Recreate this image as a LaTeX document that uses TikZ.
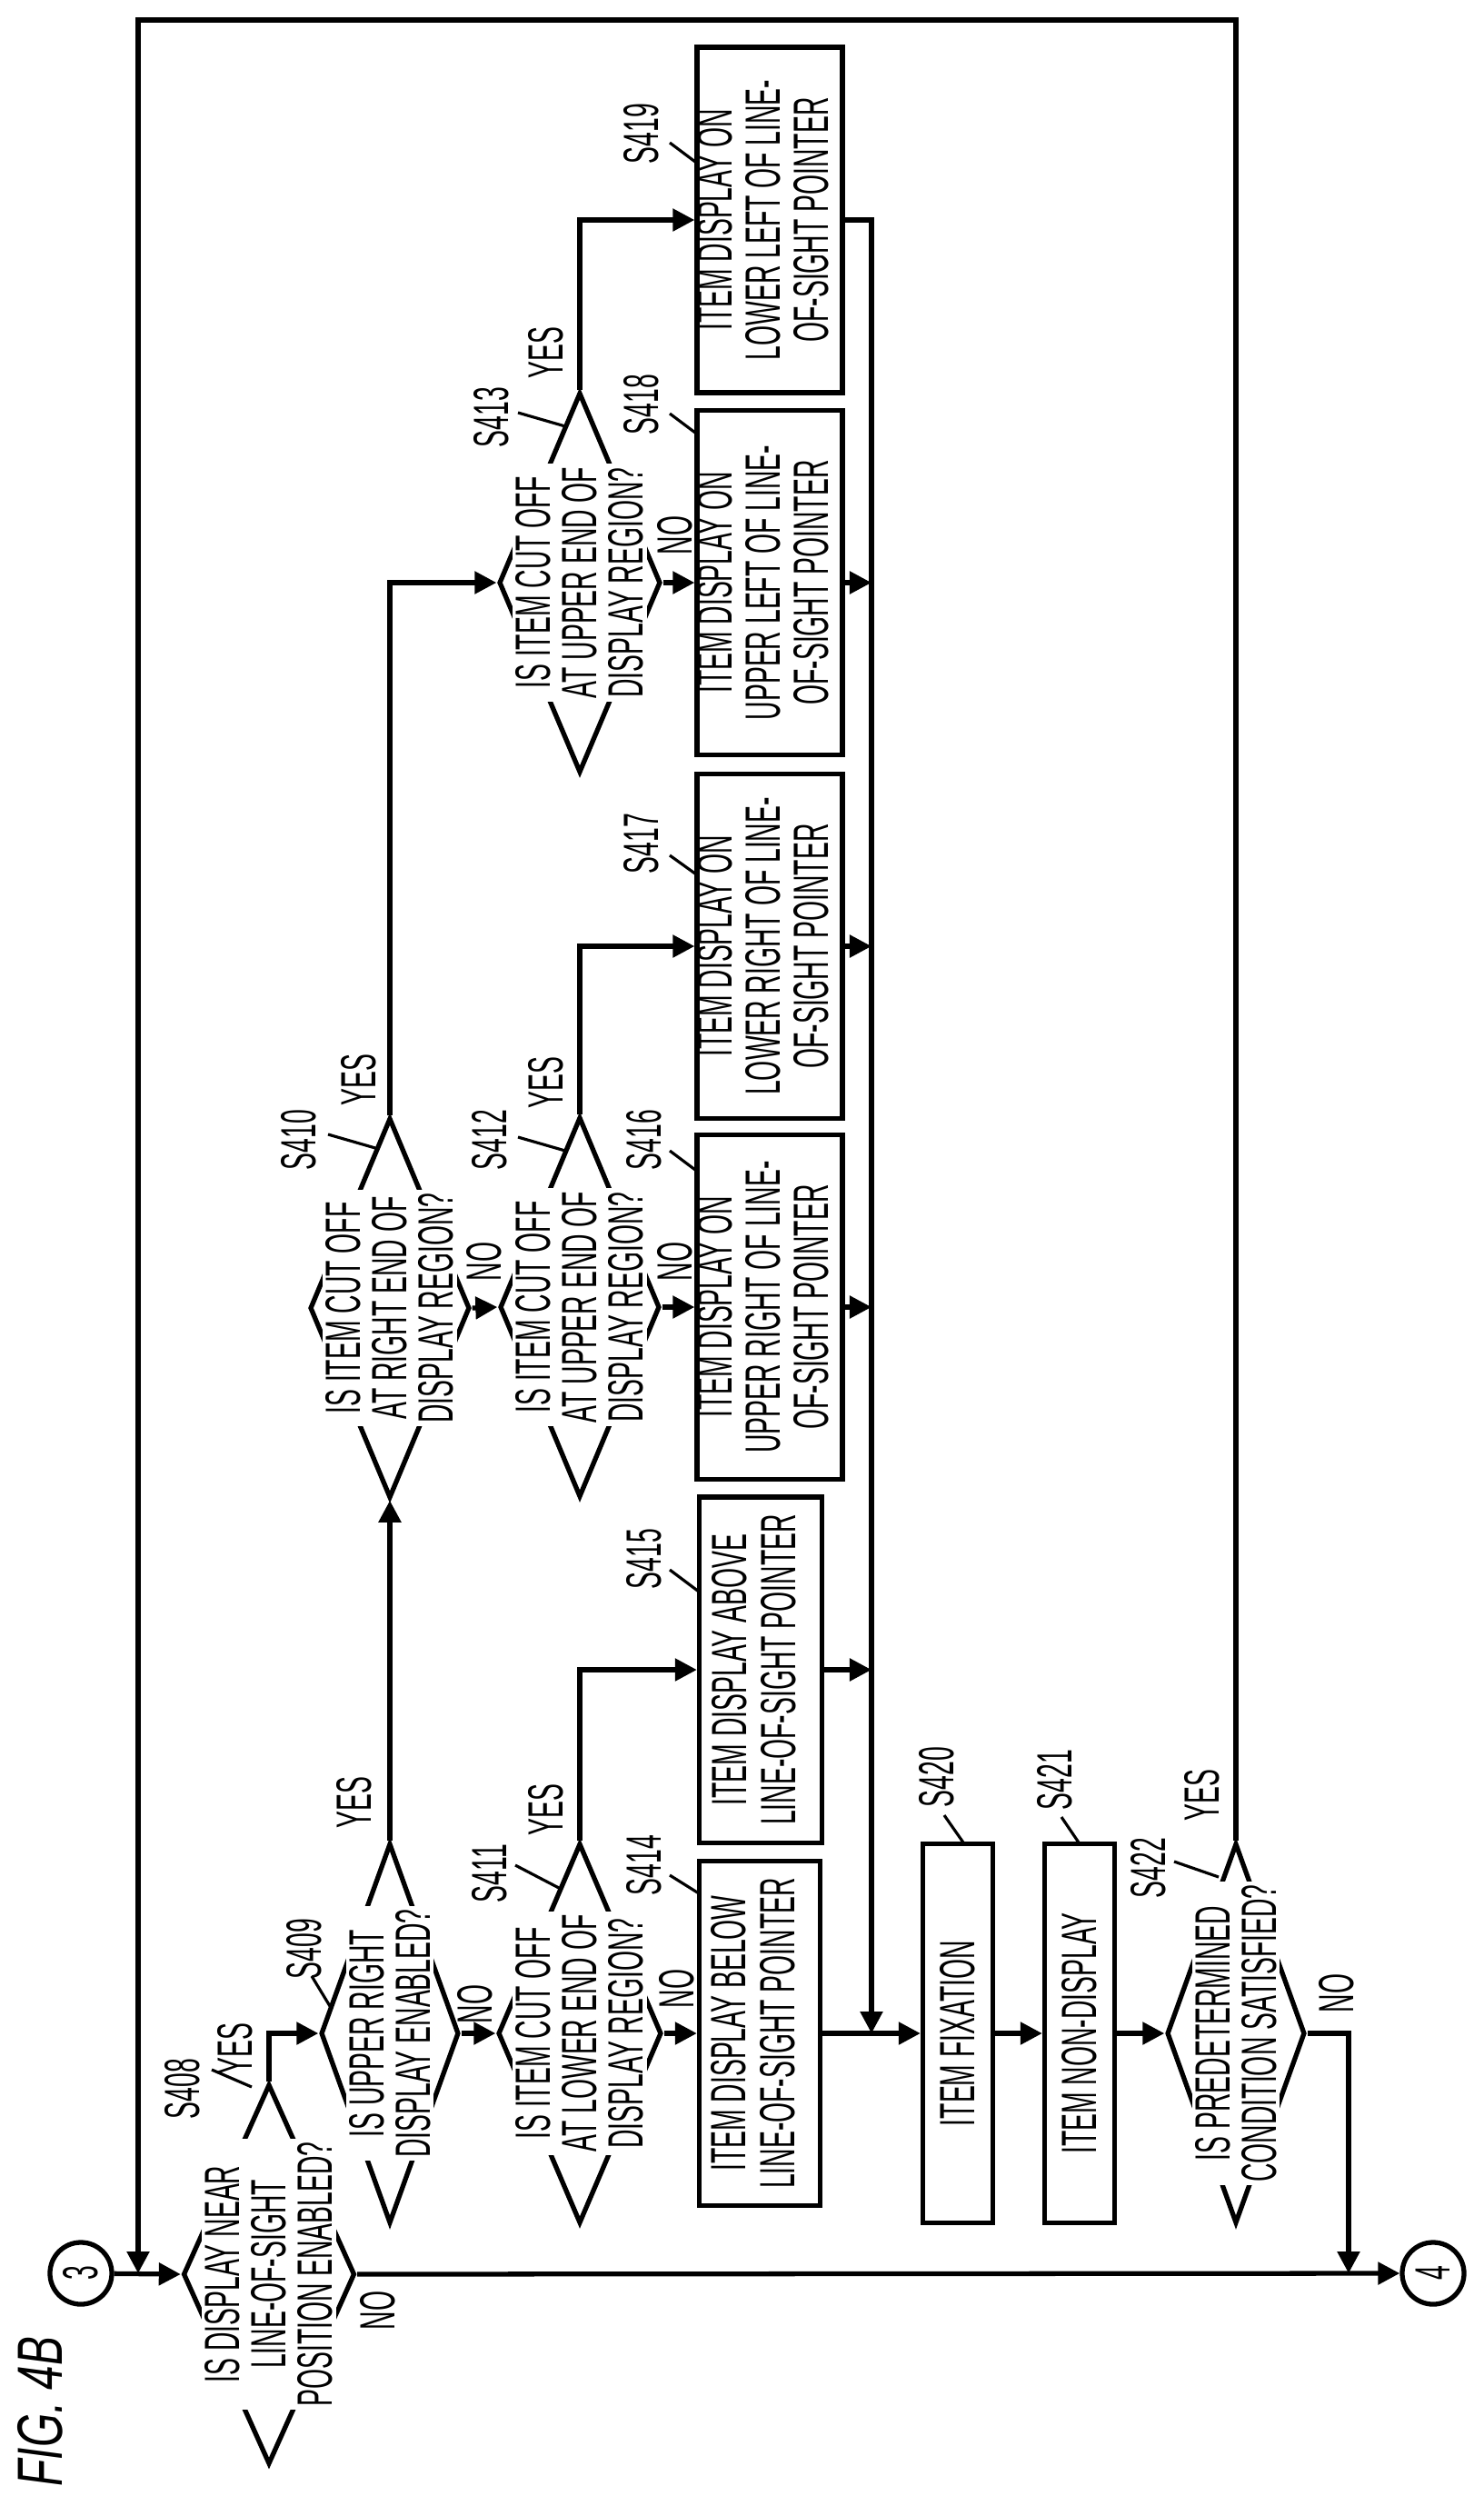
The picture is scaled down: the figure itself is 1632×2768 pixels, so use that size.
\documentclass[tikz,border=0pt]{standalone}
\usepackage{fontspec}
\setmainfont{Liberation Sans}[FakeStretch=0.52]
\newfontfamily\figfont{Liberation Sans}[FakeStretch=0.68]
\usetikzlibrary{arrows.meta,shapes.geometric}
\newcommand{\vt}[1]{\rotatebox{90}{\begin{tabular}{@{}c@{}}#1\end{tabular}}}
\tikzset{
  arr/.style={-{Triangle[length=0.24cm,width=0.24cm]}},
  proc/.style={draw,rectangle,inner sep=0pt},
  dec/.style={draw,diamond,inner sep=0pt,minimum width=#1,minimum height=4.18cm},
  dtext/.style={rotate=90,align=center,fill=white,inner sep=1pt},
  lab/.style={rotate=90,inner sep=0pt},
  lead/.style={line width=0.9pt},
  conn/.style={draw,circle,minimum size=0.68cm,inner sep=0pt}
}
\begin{document}
\begin{tikzpicture}[x=0.01cm,y=-0.01cm,line width=1.5pt,
  font=\fontsize{15.5pt}{14.5pt}\selectfont]
\useasboundingbox (0,0) rectangle (1632,2768);
% connectors
\node[conn] (c3) at (89,2501) {\rotatebox{90}{3}};
\node[conn] (c4) at (1577,2501) {\rotatebox{90}{4}};
% decisions
\node[dec=1.89cm] (s408) at (296,2502) {};
\node[dtext] at (s408) {IS DISPLAY NEAR\\LINE-OF-SIGHT\\POSITION ENABLED?};
\node[dec=1.52cm] (s409) at (429,2237) {};
\node[dtext] at (s409) {IS UPPER RIGHT\\DISPLAY ENABLED?};
\node[dec=1.80cm] (s411) at (638,2237) {};
\node[dtext] at (s411) {IS ITEM CUT OFF\\AT LOWER END OF\\DISPLAY REGION?};
\node[dec=1.76cm] (s410) at (429,1439) {};
\node[dtext] at (s410) {IS ITEM CUT OFF\\AT RIGHT END OF\\DISPLAY REGION?};
\node[dec=1.76cm] (s412) at (638,1438) {};
\node[dtext] at (s412) {IS ITEM CUT OFF\\AT UPPER END OF\\DISPLAY REGION?};
\node[dec=1.78cm] (s413) at (638,641) {};
\node[dtext] at (s413) {IS ITEM CUT OFF\\AT UPPER END OF\\DISPLAY REGION?};
\node[dec=1.52cm] (s422) at (1360,2237) {};
\node[dtext] at (s422) {IS PREDETERMINED\\CONDITION SATISFIED?};
% process boxes
\node[proc,minimum width=1.33cm,minimum height=3.79cm] (s414) at (836,2237)
  {\vt{ITEM DISPLAY BELOW\\LINE-OF-SIGHT POINTER}};
\node[proc,minimum width=1.35cm,minimum height=3.80cm] (s415) at (837,1837)
  {\vt{ITEM DISPLAY ABOVE\\LINE-OF-SIGHT POINTER}};
\node[proc,minimum width=1.54cm,minimum height=3.79cm] (s416) at (847,1438)
  {\vt{ITEM DISPLAY ON\\UPPER RIGHT OF LINE-\\OF-SIGHT POINTER}};
\node[proc,minimum width=1.54cm,minimum height=3.79cm] (s417) at (847,1041)
  {\vt{ITEM DISPLAY ON\\LOWER RIGHT OF LINE-\\OF-SIGHT POINTER}};
\node[proc,minimum width=1.54cm,minimum height=3.79cm] (s418) at (847,641)
  {\vt{ITEM DISPLAY ON\\UPPER LEFT OF LINE-\\OF-SIGHT POINTER}};
\node[proc,minimum width=1.54cm,minimum height=3.80cm] (s419) at (847,242)
  {\vt{ITEM DISPLAY ON\\LOWER LEFT OF LINE-\\OF-SIGHT POINTER}};
\node[proc,minimum width=0.77cm,minimum height=4.17cm] (s420) at (1054,2237)
  {\rotatebox{90}{ITEM FIXATION}};
\node[proc,minimum width=0.77cm,minimum height=4.17cm] (s421) at (1188,2237)
  {\rotatebox{90}{ITEM NON-DISPLAY}};
% helper points
\coordinate (tl) at (152,22);
\coordinate (jin) at (152,2501);
\coordinate (jout) at (1484,2501);
\coordinate (mg) at (959,2237);
% flow
\draw[arr] (c3) -- (s408.west);
\draw[arr] (s408.east) -- (c4.west);
\draw[arr] (s422.north) |- (tl) -- (jin);
\draw[arr] (s408.north) |- (s409.west);
\draw[arr] (s409.east) -- (s411.west);
\draw[arr] (s411.east) -- (s414.west);
\draw[arr] (s414.east) -- (s420.west);
\draw[arr] (s420.east) -- (s421.west);
\draw[arr] (s421.east) -- (s422.west);
\draw[arr] (s422.east) -| (jout);
\draw[arr] (s409.north) -- (s410.south);
\draw[arr] (s410.east) -- (s412.west);
\draw[arr] (s412.east) -- (s416.west);
\draw[arr] (s412.north) |- (s417.west);
\draw[arr] (s410.north) |- (s413.west);
\draw[arr] (s413.east) -- (s418.west);
\draw[arr] (s413.north) |- (s419.west);
\draw[arr] (s411.north) |- (s415.west);
\draw[arr] (s419.east) -| (mg);
\foreach \b in {s418,s417,s416,s415}
  \draw[arr] (\b.east) -- (\b.east -| mg);
% yes / no
\node[lab] (y408) at (259,2254) {YES};
\node[lab] (n408) at (416,2542) {NO};
\node[lab] (y409) at (390,1983) {YES};
\node[lab] (n409) at (523,2205) {NO};
\node[lab] (y411) at (601,1991) {YES};
\node[lab] (n411) at (745,2188) {NO};
\node[lab] (y410) at (395,1188) {YES};
\node[lab] (n410) at (533,1388) {NO};
\node[lab] (y412) at (601,1191) {YES};
\node[lab] (n412) at (743,1388) {NO};
\node[lab] (y413) at (601,388) {YES};
\node[lab] (n413) at (743,589) {NO};
\node[lab] (y422) at (1323,1975) {YES};
\node[lab] (n422) at (1471,2193) {NO};
% step numbers
\node[lab] (l408) at (201,2298) {S408};
\draw[lead] (233,2277) -- (277,2296);
\node[lab] (l409) at (335,2144) {S409};
\draw[lead] (343,2174) -- (363,2207);
\node[lab] (l411) at (539,2061) {S411};
\draw[lead] (567,2052) -- (615,2077);
\node[lab] (l414) at (709,2052) {S414};
\draw[lead] (737,2063) -- (769,2083);
\node[lab] (l420) at (1031,1955) {S420};
\draw[lead] (1039,1997) -- (1060,2027);
\node[lab] (l421) at (1161,1958) {S421};
\draw[lead] (1168,1999) -- (1187,2027);
\node[lab] (l422) at (1264,2055) {S422};
\draw[lead] (1292,2048) -- (1341,2065);
\node[lab] (l410) at (329,1254) {S410};
\draw[lead] (361,1248) -- (413,1263);
\node[lab] (l412) at (539,1254) {S412};
\draw[lead] (570,1251) -- (622,1266);
\node[lab] (l416) at (709,1254) {S416};
\draw[lead] (737,1266) -- (769,1290);
\node[lab] (l415) at (709,1715) {S415};
\draw[lead] (737,1727) -- (769,1751);
\node[lab] (l419) at (706,147) {S419};
\draw[lead] (737,157) -- (769,181);
\node[lab] (l413) at (541,459) {S413};
\draw[lead] (570,454) -- (622,469);
\node[lab] (l418) at (706,445) {S418};
\draw[lead] (737,455) -- (769,479);
\node[lab] (l417) at (706,928) {S417};
\draw[lead] (737,941) -- (769,964);
\node[lab,font=\figfont\itshape\fontsize{20pt}{20pt}\selectfont] (fig) at (44,2653) {FIG. 4B};
\end{tikzpicture}
\end{document}
